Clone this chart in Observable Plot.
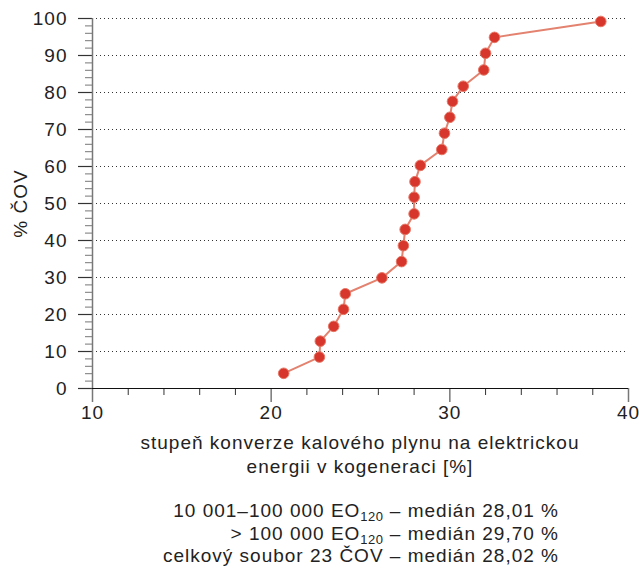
<!DOCTYPE html>
<html>
<head>
<meta charset="utf-8">
<script src="https://cdn.jsdelivr.net/npm/d3@7"></script>
<script src="https://cdn.jsdelivr.net/npm/@observablehq/plot@0.6"></script>
<style>
  html, body { margin: 0; padding: 0; background: #fff; }
  body { position: relative; width: 639px; height: 568px; overflow: hidden;
         font-family: "Liberation Sans", Arial, sans-serif; color: #222; }
  #chart svg { display: block; font-family: "Liberation Sans", Arial, sans-serif !important; font-size: 19px !important; letter-spacing: 1px; color: #222; background: #fff; }
  #chart svg text { font-size: 19px !important; font-family: "Liberation Sans", Arial, sans-serif !important; }
  .xtitle { position: absolute; left: 0; width: 720px; top: 431px; text-align: center;
            font-size: 19px; line-height: 24px; letter-spacing: 1px; }
  .caption { position: absolute; right: 80px; top: 500px; text-align: right;
             font-size: 19px; line-height: 22.5px; letter-spacing: 1px; white-space: nowrap; }
  .caption sub { font-size: 13px; line-height: 0; position: relative; top: 4px; vertical-align: baseline; letter-spacing: 0.5px; }
</style>
</head>
<body>
<div id="chart"></div>
<div class="xtitle">stupeň konverze kalového plynu na elektrickou<br>energii v kogeneraci [%]</div>
<div class="caption">10 001–100 000 EO<sub>120</sub> – medián 28,01 %<br>&gt; 100 000 EO<sub>120</sub> – medián 29,70 %<br>celkový soubor 23 ČOV – medián 28,02 %</div>
<script>
// Data
const conversion = [20.7, 22.7, 22.75, 23.5, 24.05, 24.15, 26.2, 27.3, 27.4, 27.5, 28.0, 28.0, 28.05, 28.35, 29.55, 29.7, 30.0, 30.15, 30.75, 31.9, 32.0, 32.5, 38.45];
const cumulativePct = [4.1, 8.5, 12.8, 16.8, 21.4, 25.6, 29.9, 34.3, 38.6, 43.0, 47.2, 51.7, 55.9, 60.3, 64.6, 69.0, 73.3, 77.6, 81.7, 86.1, 90.6, 94.9, 99.2];
const xMajorTicks = [10, 20, 30, 40];
const xMinorTicks = [12, 14, 16, 18, 22, 24, 26, 28, 32, 34, 36, 38];
const yMajorTicks = [0, 10, 20, 30, 40, 50, 60, 70, 80, 90, 100];
const yMinorTicks = [2, 4, 6, 8, 12, 14, 16, 18, 22, 24, 26, 28, 32, 34, 36, 38, 42, 44, 46, 48, 52, 54, 56, 58, 62, 64, 66, 68, 72, 74, 76, 78, 82, 84, 86, 88, 92, 94, 96, 98];
const yGridLines = [10, 20, 30, 40, 50, 60, 70, 80, 90, 100];
const yLabel = "% ČOV";

const data = conversion.map((x, i) => ({x, y: cumulativePct[i]}));
const blank = () => "";

const chart = Plot.plot({
  width: 639,
  height: 425,
  marginLeft: 92,
  marginRight: 11,
  marginTop: 18,
  marginBottom: 37,
  x: {domain: [10, 40]},
  y: {domain: [0, 100]},
  style: "font-family: 'Liberation Sans', Arial, sans-serif; font-size: 19px; letter-spacing: 1px; color: #222; background: white;",
  marks: [
    Plot.gridY(yGridLines, {stroke: "#333", strokeOpacity: 1, strokeDasharray: "1,3", strokeWidth: 1}),
    Plot.axisY(yMinorTicks, {anchor: "left", tickSize: 7, tickFormat: blank, stroke: "#777", strokeWidth: 1, label: null}),
    Plot.axisY(yMajorTicks, {anchor: "left", tickSize: 14, tickPadding: 11, fontSize: 19, stroke: "#333", strokeWidth: 1.2, label: null}),
    Plot.axisX(xMinorTicks, {anchor: "bottom", tickSize: 7, tickFormat: blank, stroke: "#333", strokeWidth: 1, label: null}),
    Plot.axisX(xMajorTicks, {anchor: "bottom", tickSize: 14, tickPadding: 3, fontSize: 19, stroke: "#777", strokeWidth: 1.5, label: null}),
    Plot.ruleX([10], {y1: 0, y2: 100, stroke: "#777", strokeWidth: 1.5}),
    Plot.ruleY([0], {stroke: "#111", strokeWidth: 1.2}),
    Plot.text([yLabel], {text: d => d, frameAnchor: "left", textAnchor: "middle", dx: -72, rotate: -90, fontSize: 19, fill: "#222"}),
    Plot.line(data, {x: "x", y: "y", stroke: "#e3826f", strokeWidth: 2}),
    Plot.dot(data, {x: "x", y: "y", r: 5.3, fill: "#d7362c", stroke: "#e77766", strokeWidth: 1})
  ]
});
document.getElementById("chart").appendChild(chart);
</script>
</body>
</html>
